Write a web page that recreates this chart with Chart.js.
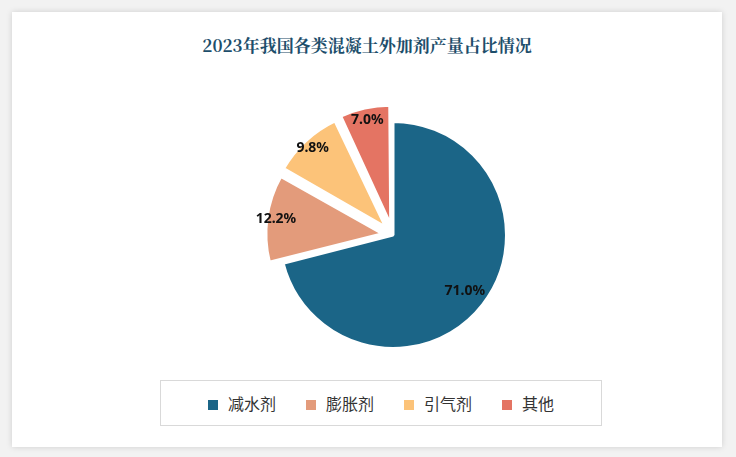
<!DOCTYPE html><html><head><meta charset="utf-8">
<script src="https://cdn.jsdelivr.net/npm/chart.js@4"></script>
<style>
body{margin:0;background:#f2f2f2;width:736px;height:457px;position:relative;font-family:"Noto Sans CJK SC",sans-serif}
#card{position:absolute;left:12px;top:12px;width:710px;height:435px;background:#fff;box-shadow:0 0 6px rgba(0,0,0,0.15)}
#title{position:absolute;left:0;top:20px;width:710px;text-align:center;font:bold 17px "Noto Serif CJK SC","Noto Sans CJK SC",serif;color:#1d4e6b}
#cw{position:absolute;left:0;top:0;width:710px;height:370px}
#legend{position:absolute;left:148px;top:368px;width:440px;height:44px;border:1px solid #d9d9d9;display:flex;justify-content:center;align-items:center;gap:30px;font-size:16px;color:#333;background:#fff}
#legend span.m{display:inline-block;width:10px;height:10px;margin-right:10px}
</style></head><body>
<div id="card"><div id="title">2023年我国各类混凝土外加剂产量占比情况</div>
<div id="cw"><canvas id="c"></canvas></div><div id="legend"></div></div>
<script>
const categories=["减水剂","膨胀剂","引气剂","其他"];
const values=[71.0,12.2,9.8,7.0];
const colors=["#1b6587","#e39b7b","#fcc379","#e47463"];
const offsets=[0,42,42,42];
const lg=document.getElementById('legend');
categories.forEach((c,i)=>{lg.innerHTML+=`<div><span class="m" style="background:${colors[i]}"></span>${c}</div>`});
const labelPlugin={id:'lbl',afterDatasetsDraw(ch){const ctx=ch.ctx;const meta=ch.getDatasetMeta(0);
ctx.save();ctx.font='bold 14px "Noto Sans",sans-serif';ctx.fillStyle='#111';ctx.textAlign='center';ctx.textBaseline='middle';
meta.data.forEach((el,i)=>{const p=el.getProps(['x','y','startAngle','endAngle','outerRadius']);const a=(p.startAngle+p.endAngle)/2;
const r=offsets[i]*0.65+p.outerRadius*0.8;ctx.fillText(values[i].toFixed(1)+'%',p.x+Math.cos(a)*r,p.y+Math.sin(a)*r);});ctx.restore();}};
new Chart(document.getElementById('c'),{type:'pie',data:{labels:categories,datasets:[{data:values,backgroundColor:colors,borderColor:'#fff',borderWidth:3,offset:offsets}]},
options:{responsive:true,maintainAspectRatio:false,animation:false,layout:{padding:{top:87,bottom:11,left:52}},
plugins:{legend:{display:false},tooltip:{enabled:false}}},plugins:[labelPlugin]});
</script></body></html>
